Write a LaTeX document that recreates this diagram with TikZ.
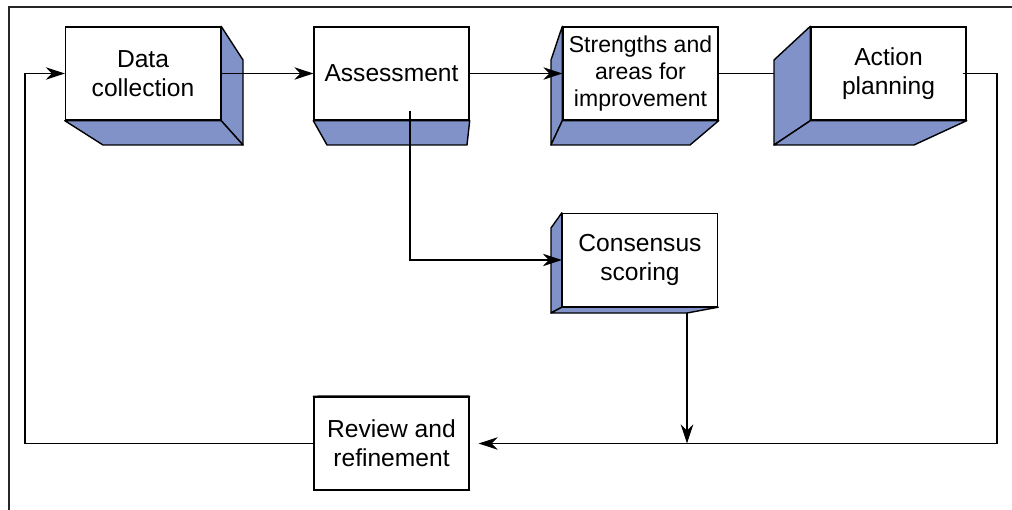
\documentclass[tikz,border=0pt]{standalone}
\usepackage{fontspec}
\setmainfont{Liberation Sans}
\usepackage{tikz}
\usetikzlibrary{arrows.meta,calc}
\definecolor{faceblue}{RGB}{128,146,200}

\begin{document}
\begin{tikzpicture}[
  x=0.02cm,y=-0.02cm,
  >={Stealth[length=3.8mm,width=2.5mm,inset=1.2mm]},
  front/.style={draw,fill=white,line width=0.8pt,minimum width=3.1cm,minimum height=1.86cm,
    inner sep=0pt,align=center,font=\fontsize{14}{16.6}\selectfont},
  face/.style={draw,fill=faceblue,line width=0.8pt,line join=round},
  link/.style={line width=0.6pt},
  frame/.style={line width=1.5pt,black!85}
]
\useasboundingbox (0,0) rectangle (1012,510);

% ---- outer frame (top and left only) ----
\draw[frame] (1012,7) -- (9,7) -- (9,510);

% ---- side faces of the boxes ----
% data collection: right and bottom
\coordinate (dcR) at (243,60);
\coordinate (dcB) at (243,145);
\coordinate (dcL) at (103,145);
% assessment: bottom
\coordinate (asL) at (327,145);
\coordinate (asR) at (467,145);
% strengths: left and bottom
\coordinate (stT) at (551,60);
\coordinate (stB) at (551,145);
\coordinate (stR) at (690,145);
% action planning: left and bottom
\coordinate (apT) at (774,60);
\coordinate (apB) at (774,145);
\coordinate (apR) at (914,145);
% consensus scoring: left and bottom
\coordinate (csT) at (551,228);
\coordinate (csB) at (551,313);
\coordinate (csR) at (687,313);
% review: thin top
\coordinate (rrL) at (327,396);
\coordinate (rrR) at (467,396);

% front faces
\node[front] (dc) at (143,73.5) {Data\\collection};
\node[front] (as) at (391.5,73.5) {Assessment};
\node[front,font=\fontsize{13.1}{15.6}\selectfont] (st) at (640.5,73.5) {Strengths and\\areas for\\improvement};
\node[front] (ap) at (888.5,73.5) {Action\\planning};
\node[front] (cs) at (640,260) {Consensus\\scoring};
\node[front] (rr) at (391.5,443.5) {Review and\\refinement};

\draw[face] (dc.north east) -- (dcR) -- (dcB) -- (dc.south east) -- cycle;
\draw[face] (dc.south west) -- (dcL) -- (dcB) -- (dc.south east) -- cycle;
\draw[face] (as.south west) -- (asL) -- (asR) -- (as.south east) -- cycle;
\draw[face] (st.north west) -- (stT) -- (stB) -- (st.south west) -- cycle;
\draw[face] (st.south west) -- (stB) -- (stR) -- (st.south east) -- cycle;
\draw[face] (ap.north west) -- (apT) -- (apB) -- (ap.south west) -- cycle;
\draw[face] (ap.south west) -- (apB) -- (apR) -- (ap.south east) -- cycle;
\draw[face] (cs.north west) -- (csT) -- (csB) -- (cs.south west) -- cycle;
\draw[face] (cs.south west) -- (csB) -- (csR) -- (cs.south east) -- cycle;
\draw[face] (rr.north west) -- (rrL) -- (rrR) -- (rr.north east) -- cycle;

% ---- connectors ----
\coordinate (asout) at ($(as.south)+(18.5,-10)$);
\coordinate (apout) at ($(ap.east)+(-4,0)$);
\coordinate (rrin) at ($(rr.east)+(9,0)$);
\coordinate (join) at (687,443.5);
\coordinate (rloop) at (997,73.5);
\coordinate (lloop) at (25,443.5);

\draw[link,->] (dc.east) -- (as.west);
\draw[link,->] (as.east) -- (st.west);
\draw[link] (st.east) -- (st.east -| apT);
\draw[link,->] (asout) |- (cs.west);
\draw[link,->] (csR) -- (join);
\draw[link,->] (apout) -- (rloop) |- (rrin);
\draw[link,->] (rr.west) -- (lloop) |- (dc.west);

\end{tikzpicture}
\end{document}
